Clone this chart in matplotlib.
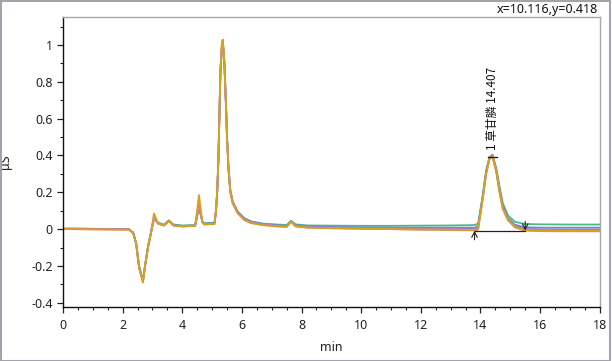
import matplotlib
matplotlib.use("Agg")
import matplotlib.pyplot as plt
from matplotlib.ticker import MultipleLocator
from matplotlib.patches import Rectangle

plt.rcParams['font.family'] = ['Noto Sans', 'Noto Sans CJK SC', 'DejaVu Sans']

# retention time grid (min)
t_min = [0, 0.3, 2.2, 2.35, 2.45, 2.55, 2.65, 2.68, 2.75, 2.85,
         2.95, 3.05, 3.19, 3.39, 3.55, 3.7, 4.0, 4.43, 4.56, 4.67,
         4.73, 5.08, 5.13, 5.17, 5.21, 5.25, 5.28, 5.33, 5.36, 5.41,
         5.47, 5.5, 5.55, 5.61, 5.69, 5.86, 6.08, 6.31, 6.7, 7.2,
         7.5, 7.65, 7.8, 8.2, 9, 10, 11, 12, 13, 13.8,
         13.92, 14.08, 14.19, 14.3, 14.4, 14.53, 14.64, 14.75, 14.92, 15.15,
         15.48, 16, 17, 18]

green = [0.003, 0.003, 0.0, -0.02, -0.075, -0.2, -0.26, -0.275, -0.2, -0.095,
         -0.015, 0.06, 0.035, 0.025, 0.048, 0.025, 0.02, 0.022, 0.125, 0.045,
         0.032, 0.035, 0.1, 0.2, 0.37, 0.65, 0.85, 1.0, 1.01, 0.9,
         0.65, 0.5, 0.33, 0.21, 0.15, 0.095, 0.06, 0.042, 0.03, 0.025,
         0.022, 0.045, 0.026, 0.02, 0.019, 0.018, 0.018, 0.019, 0.02, 0.022,
         0.03, 0.19, 0.32, 0.39, 0.405, 0.33, 0.23, 0.14, 0.075, 0.04,
         0.028, 0.026, 0.025, 0.025]

blue = [0.002, 0.002, 0.0, -0.018, -0.075, -0.205, -0.265, -0.28, -0.2, -0.095,
        -0.018, 0.062, 0.032, 0.022, 0.046, 0.022, 0.017, 0.02, 0.122, 0.042,
        0.03, 0.032, 0.1, 0.2, 0.37, 0.66, 0.86, 1.0, 1.01, 0.9,
        0.65, 0.5, 0.33, 0.21, 0.147, 0.092, 0.057, 0.04, 0.028, 0.021,
        0.018, 0.043, 0.022, 0.015, 0.012, 0.01, 0.009, 0.008, 0.008, 0.008,
        0.015, 0.18, 0.31, 0.385, 0.4, 0.32, 0.215, 0.125, 0.06, 0.024,
        0.01, 0.008, 0.008, 0.008]

purple = [0.002, 0.002, 0.0, -0.018, -0.075, -0.205, -0.265, -0.28, -0.2, -0.095,
          -0.02, 0.06, 0.03, 0.02, 0.045, 0.02, 0.015, 0.018, 0.12, 0.04,
          0.028, 0.03, 0.1, 0.2, 0.37, 0.66, 0.86, 1.0, 1.01, 0.9,
          0.65, 0.5, 0.33, 0.21, 0.145, 0.09, 0.055, 0.037, 0.026, 0.019,
          0.016, 0.042, 0.02, 0.012, 0.009, 0.007, 0.006, 0.004, 0.003, 0.002,
          0.01, 0.18, 0.31, 0.385, 0.4, 0.32, 0.21, 0.12, 0.055, 0.018,
          0.002, -0.001, -0.002, -0.002]

pink = [0.0, 0.0, -0.003, -0.02, -0.078, -0.21, -0.27, -0.285, -0.2, -0.1,
        -0.02, 0.065, 0.03, 0.02, 0.045, 0.02, 0.015, 0.018, 0.14, 0.04,
        0.026, 0.028, 0.1, 0.21, 0.38, 0.67, 0.87, 1.01, 1.02, 0.91,
        0.65, 0.49, 0.32, 0.2, 0.14, 0.086, 0.05, 0.033, 0.022, 0.015,
        0.012, 0.04, 0.015, 0.008, 0.005, 0.002, 0.0, -0.003, -0.005, -0.007,
        -0.002, 0.17, 0.3, 0.38, 0.395, 0.31, 0.2, 0.11, 0.048, 0.01,
        -0.008, -0.011, -0.012, -0.012]

orange = [0.0, 0.0, -0.003, -0.02, -0.08, -0.21, -0.27, -0.29, -0.2, -0.1,
          -0.02, 0.085, 0.03, 0.02, 0.045, 0.02, 0.015, 0.018, 0.185, 0.04,
          0.025, 0.028, 0.1, 0.21, 0.38, 0.67, 0.87, 1.02, 1.03, 0.91,
          0.65, 0.49, 0.32, 0.2, 0.14, 0.085, 0.05, 0.033, 0.022, 0.015,
          0.012, 0.04, 0.015, 0.008, 0.005, 0.002, 0.0, -0.002, -0.003, -0.005,
          0.0, 0.17, 0.3, 0.38, 0.395, 0.31, 0.2, 0.11, 0.05, 0.012,
          -0.005, -0.008, -0.009, -0.01]

series = [(green, "#4fb882"), (blue, "#5b8fd6"), (purple, "#9c7fd6"),
          (pink, "#e8808a"), (orange, "#d6a21c")]

# peak annotation
peak_label = "1 草甘膦 14.407"
peak_rt = 14.407
peak_height = 0.392
base_start = 13.8
base_end = 15.5
base_level = -0.008

fig = plt.figure(figsize=(6.12, 3.61), dpi=100)
fig.patches.append(Rectangle((0.001, 0.001), 0.996, 0.996, transform=fig.transFigure,
                             fill=False, edgecolor="#a3a3ab", linewidth=1.5))
ax = fig.add_axes([0.103, 0.150, 0.877, 0.803])

for vals, col in series:
    ax.plot(t_min, vals, color=col, lw=1.3, solid_joinstyle="round")

# baseline and peak markers
ax.plot([base_start, base_end], [base_level, base_level], color="#222222", lw=0.9)
ax.annotate("", xy=(base_start, base_level), xytext=(base_start, base_level - 0.05),
            arrowprops=dict(arrowstyle="->", color="#222222", lw=0.8, shrinkA=0, shrinkB=0))
ax.annotate("", xy=(base_end, base_level), xytext=(base_end, base_level + 0.05),
            arrowprops=dict(arrowstyle="->", color="#222222", lw=0.8, shrinkA=0, shrinkB=0))
ax.plot([peak_rt - 0.15, peak_rt + 0.15], [peak_height, peak_height], color="#222222", lw=1.0)
ax.text(peak_rt, peak_height + 0.04, peak_label, rotation=90, ha="center", va="bottom",
        fontsize=8.5, color="#111111", family=['Noto Sans CJK SC', 'DejaVu Sans'])

ax.set_xlim(0, 18)
ax.set_ylim(-0.422, 1.152)
ax.xaxis.set_major_locator(MultipleLocator(2))
ax.xaxis.set_minor_locator(MultipleLocator(0.5))
ax.yaxis.set_major_locator(MultipleLocator(0.2))
ax.yaxis.set_minor_locator(MultipleLocator(0.1))
ax.set_yticks([-0.4, -0.2, 0, 0.2, 0.4, 0.6, 0.8, 1])
ax.set_yticklabels(["-0.4", "-0.2", "0", "0.2", "0.4", "0.6", "0.8", "1"])
ax.tick_params(which="major", length=4, width=0.9, labelsize=9, colors="#222222", direction="out")
ax.tick_params(which="minor", length=2.5, width=0.8, colors="#222222", direction="out")
ax.tick_params(axis="x", pad=5)
for s in ("left", "bottom"):
    ax.spines[s].set_color("#111111")
    ax.spines[s].set_linewidth(1.0)
for s in ("top", "right"):
    ax.spines[s].set_color("#a8a8a8")
    ax.spines[s].set_linewidth(1.0)

ax.set_xlabel("min", fontsize=9, color="#222222", labelpad=6)
ax.set_ylabel("μS", fontsize=9, color="#222222", labelpad=14)
fig.text(0.977, 0.975, "x=10.116,y=0.418", ha="right", va="center", fontsize=9, color="#111111")

fig.savefig("out.png", dpi=100)
